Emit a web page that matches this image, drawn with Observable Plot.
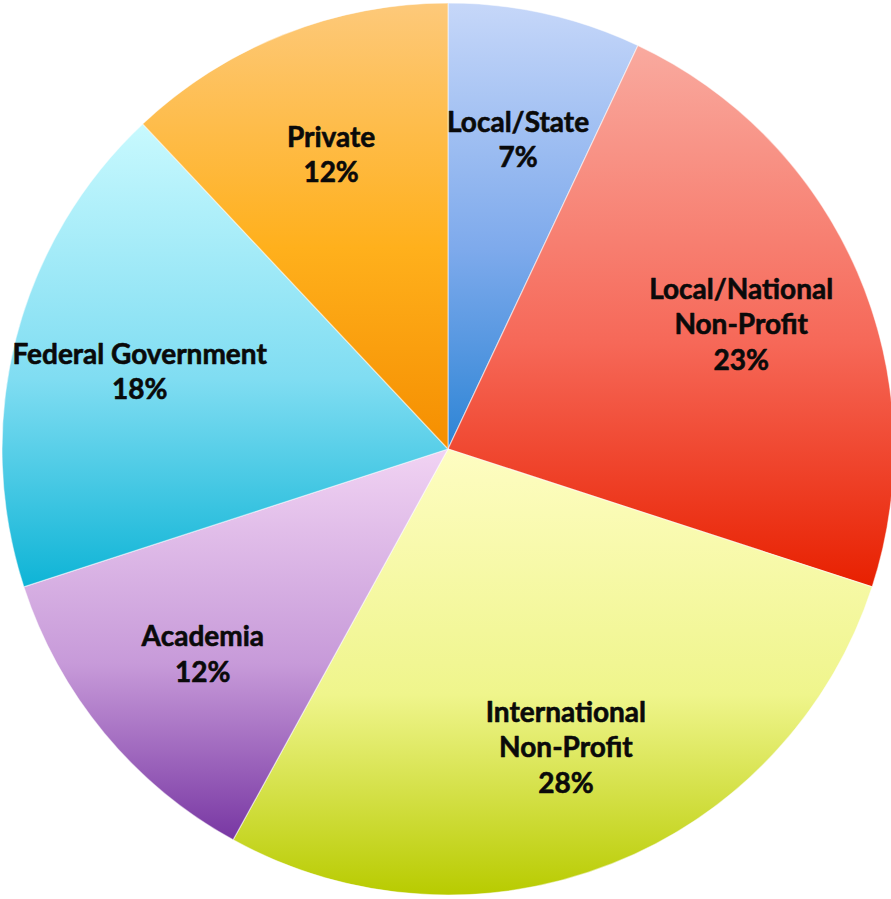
<!DOCTYPE html>
<html>
<head>
<meta charset="utf-8">
<script src="https://cdn.jsdelivr.net/npm/d3@7"></script>
<script src="https://cdn.jsdelivr.net/npm/@observablehq/plot@0.6"></script>
<style>
  html, body { margin: 0; padding: 0; background: #fff; }
  #chart { width: 891px; height: 899px; }
</style>
</head>
<body>
<div id="chart"></div>
<script>
// ---- data ----
const categories = ["Local/State", "Local/National Non-Profit", "International Non-Profit", "Academia", "Federal Government", "Private"];
const labelNames = ["Local/State", "Local/National\nNon-Profit", "International\nNon-Profit", "Academia", "Federal Government", "Private"];
const values = [7, 23, 28, 12, 18, 12];
const colorsTop = ["#c6d7f9", "#f9aa9f", "#fefdc2", "#f1d3f3", "#c8f9fe", "#fdc97a"];
const colorsMid = ["#7eaaec", "#f66858", "#eff58c", "#c79ad9", "#80ddf2", "#ffb01c"];
const colorsBottom = ["#2c84d5", "#e82000", "#b8cb00", "#7837a3", "#0eb4d6", "#f58e00"];

// ---- layout constants ----
const W = 891, H = 899;
const CX = 448, CY = 449, R = 446;
const LABEL_K = 0.715;

const rows = categories.map((c, i) => ({category: c, label: labelNames[i], value: values[i], top: colorsTop[i], mid: colorsMid[i], bottom: colorsBottom[i]}));
const arcs = d3.pie().sort(null).value(d => d.value)(rows);
const labels = arcs.map(a => {
  const mid = (a.startAngle + a.endAngle) / 2;
  return {x: LABEL_K * Math.sin(mid), y: LABEL_K * Math.cos(mid), text: a.data.label + "\n" + a.data.value + "%"};
});

function pieMark(index, scales, values, dimensions, context) {
  const x = scales.x, y = scales.y;
  const cx = x(0), cy = y(0);
  const r = Math.abs(x(1) - x(0));
  const g = d3.create("svg:g");
  const defs = g.append("defs");
  arcs.forEach((a, i) => {
    const grad = defs.append("linearGradient")
      .attr("id", "slice-grad-" + i)
      .attr("x1", 0).attr("y1", 0).attr("x2", 0).attr("y2", 1);
    grad.append("stop").attr("offset", "0%").attr("stop-color", a.data.top);
    grad.append("stop").attr("offset", "55%").attr("stop-color", a.data.mid);
    grad.append("stop").attr("offset", "100%").attr("stop-color", a.data.bottom);
  });
  const arcGen = d3.arc().innerRadius(0).outerRadius(r);
  g.append("g")
    .attr("transform", `translate(${cx},${cy})`)
    .selectAll("path")
    .data(arcs)
    .join("path")
    .attr("d", arcGen)
    .attr("fill", (d, i) => `url(#slice-grad-${i})`)
    .attr("stroke", "#ffffff")
    .attr("stroke-opacity", 0.5)
    .attr("stroke-width", 1.2)
    .append("title").text(d => `${d.data.category}: ${d.data.value}%`);
  return g.node();
}

const chart = Plot.plot({
  width: W,
  height: H,
  margin: 0,
  x: {domain: [-CX / R, (W - CX) / R], axis: null},
  y: {domain: [-(H - CY) / R, CY / R], axis: null},
  style: {background: "#ffffff"},
  marks: [
    pieMark,
    Plot.text(labels, {
      x: "x", y: "y", text: "text",
      fontFamily: "Lato, 'Open Sans', sans-serif",
      fontWeight: "bold",
      fontSize: 28,
      lineHeight: 1.27,
      fill: "#0a0a0a",
      stroke: "#0a0a0a",
      strokeWidth: 0.6
    })
  ]
});
document.getElementById("chart").appendChild(chart);
</script>
</body>
</html>
